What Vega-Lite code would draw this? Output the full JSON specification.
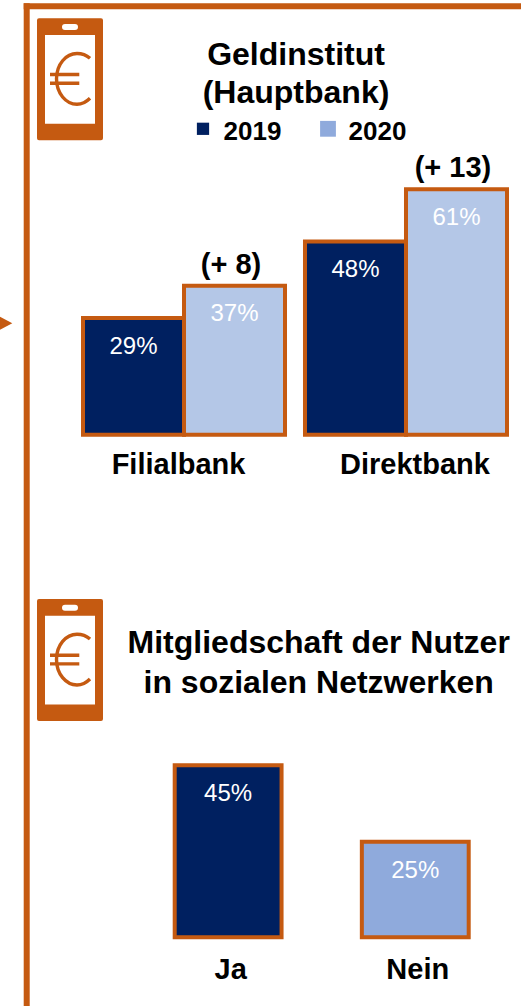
{
  "$schema": "https://vega.github.io/schema/vega-lite/v6.json",
  "width": 521,
  "height": 1006,
  "padding": 0,
  "autosize": "none",
  "background": "white",
  "config": {"view": {"stroke": null}, "text": {"font": "Liberation Sans"}},
  "datasets": {
    "geld": [
      {"Bank": "Filialbank", "Jahr": "2019", "Anteil": 0.29},
      {"Bank": "Filialbank", "Jahr": "2020", "Anteil": 0.37, "Zuwachs": "(+ 8)"},
      {"Bank": "Direktbank", "Jahr": "2019", "Anteil": 0.48},
      {"Bank": "Direktbank", "Jahr": "2020", "Anteil": 0.61, "Zuwachs": "(+ 13)"}
    ],
    "sozial": [
      {"Antwort": "Ja", "Anteil": 0.45},
      {"Antwort": "Nein", "Anteil": 0.25}
    ],
    "titel1": [
      {"Block": "Geldinstitut", "Zeile": "Geldinstitut"},
      {"Block": "Geldinstitut", "Zeile": "(Hauptbank)"}
    ],
    "titel2": [
      {"Block": "Mitgliedschaft", "Zeile": "Mitgliedschaft der Nutzer"},
      {"Block": "Mitgliedschaft", "Zeile": "in sozialen Netzwerken"}
    ],
    "icons": [
      {"Teil": "Icon", "Block": "Geldinstitut"},
      {"Teil": "Icon", "Block": "Mitgliedschaft"}
    ],
    "jahre": [
      {"Jahr": "2019", "Teil": "Legende"},
      {"Jahr": "2020", "Teil": "Legende"}
    ]
  },
  "resolve": {
    "scale": {"x": "independent", "y": "independent", "fill": "independent", "size": "independent"},
    "axis": {"x": "independent", "y": "independent"}
  },
  "layer": [
    {
      "data": {"values": [{"Kante": "links", "von": "oben", "bis": "unten"}]},
      "mark": {"type": "rule", "color": "#C55A11", "strokeWidth": 6},
      "encoding": {
        "x": {"field": "Kante", "type": "nominal", "axis": null, "scale": {"type": "point", "domain": ["links"], "range": [26.7, 26.7]}},
        "y": {"field": "von", "type": "nominal", "axis": null, "scale": {"type": "point", "domain": ["oben", "unten"], "range": [3.3, 1006], "padding": 0}},
        "y2": {"field": "bis"}
      }
    },
    {
      "data": {"values": [{"Kante": "oben", "von": "links", "bis": "rechts"}]},
      "mark": {"type": "rule", "color": "#C55A11", "strokeWidth": 6},
      "encoding": {
        "y": {"field": "Kante", "type": "nominal", "axis": null, "scale": {"type": "point", "domain": ["oben"], "range": [6.3, 6.3]}},
        "x": {"field": "von", "type": "nominal", "axis": null, "scale": {"type": "point", "domain": ["links", "rechts"], "range": [23.7, 521], "padding": 0}},
        "x2": {"field": "bis"}
      }
    },
    {
      "data": {"values": [{"Teil": "Pfeil"}]},
      "mark": {"type": "point", "filled": true, "opacity": 1, "color": "#C55A11", "size": 4, "shape": "M0,-6.5L12.3,0L0,6.5Z"},
      "encoding": {
        "x": {"field": "Teil", "type": "nominal", "axis": null, "scale": {"domain": ["Pfeil"], "range": [0, 0]}},
        "y": {"field": "Teil", "type": "nominal", "axis": null, "scale": {"domain": ["Pfeil"], "range": [323.3, 323.3]}}
      }
    },
    {
      "data": {"name": "icons"},
      "encoding": {
        "x": {"field": "Teil", "type": "nominal", "axis": null, "scale": {"domain": ["Icon"], "range": [70, 70]}},
        "y": {"field": "Block", "type": "nominal", "axis": null, "scale": {"domain": ["Geldinstitut", "Mitgliedschaft"], "range": [79.3, 660], "padding": 0}}
      },
      "layer": [
        {
          "mark": {"type": "point", "filled": true, "opacity": 1, "color": "#C55A11", "size": 4,
            "shape": "M-31,-61L31,-61Q33,-61 33,-59L33,59Q33,61 31,61L-31,61Q-33,61 -33,59L-33,-59Q-33,-61 -31,-61ZM-25,-44.3L-25,44.4L25,44.4L25,-44.3ZM-5,-55.3Q-8,-55.3 -8,-52.3Q-8,-49.3 -5,-49.3L5,-49.3Q8,-49.3 8,-52.3Q8,-55.3 5,-55.3Z"}
        },
        {
          "mark": {"type": "point", "filled": false, "opacity": 1, "color": "#C55A11", "strokeWidth": 3.4, "size": 4,
            "shape": "M20,-21C16,-24.5 12,-25.8 7,-25.8C-4,-25.8 -13.5,-15 -13.5,-0.5C-13.5,14 -4,25 7,25C12,25 16,23 20,19M-20,-4.8L9.3,-4.8M-20,3.9L9.3,3.9"}
        }
      ]
    },
    {
      "data": {"name": "titel1"},
      "mark": {"type": "text", "font": "Liberation Sans", "fontWeight": "bold", "fontSize": 32, "baseline": "alphabetic", "align": "center", "color": "black"},
      "encoding": {
        "x": {"field": "Block", "type": "nominal", "axis": null, "scale": {"domain": ["Geldinstitut"], "range": [296, 296]}},
        "y": {"field": "Zeile", "type": "nominal", "axis": null, "scale": {"domain": ["Geldinstitut", "(Hauptbank)"], "range": [65, 103], "padding": 0}},
        "text": {"field": "Zeile"}
      }
    },
    {
      "data": {"name": "jahre"},
      "encoding": {
        "x": {"field": "Jahr", "type": "ordinal", "axis": null, "scale": {"domain": ["2019", "2020"], "range": [203, 328], "padding": 0}},
        "y": {"field": "Teil", "type": "nominal", "axis": null, "scale": {"domain": ["Legende"], "range": [128.8, 128.8]}}
      },
      "layer": [
        {
          "mark": {"type": "point", "shape": "square", "filled": true, "opacity": 1},
          "encoding": {
            "fill": {"field": "Jahr", "type": "ordinal", "legend": null, "scale": {"domain": ["2019", "2020"], "range": ["#002060", "#8FAADC"]}},
            "size": {"field": "Jahr", "type": "ordinal", "legend": null, "scale": {"domain": ["2019", "2020"], "range": [150, 250]}}
          }
        },
        {
          "mark": {"type": "text", "font": "Liberation Sans", "fontWeight": "bold", "fontSize": 26, "baseline": "alphabetic", "align": "left", "dx": 20.5, "dy": 11, "color": "black"},
          "encoding": {"text": {"field": "Jahr"}}
        }
      ]
    },
    {
      "data": {"name": "geld"},
      "encoding": {
        "x": {
          "field": "Bank", "type": "nominal", "sort": null, "title": null,
          "scale": {"domain": ["Filialbank", "Direktbank"], "range": [83, 507], "paddingInner": 0.09, "paddingOuter": 0},
          "axis": {"orient": "bottom", "offset": -533, "domain": false, "ticks": false, "grid": false, "labelAngle": 0, "labelFont": "Liberation Sans", "labelFontWeight": "bold", "labelFontSize": 29, "labelColor": "black", "labelBaseline": "alphabetic", "labelPadding": 0, "labelLimit": 400, "labelOverlap": false, "labelOffset": {"expr": "datum.value === 'Filialbank' ? -5.5 : 9"}}
        },
        "xOffset": {"field": "Jahr", "type": "ordinal", "scale": {"domain": ["2019", "2020"], "paddingInner": 0, "paddingOuter": 0}},
        "y": {"field": "Anteil", "type": "quantitative", "stack": null, "axis": null, "scale": {"domain": [0, 0.61], "range": [434.7, 189.3], "nice": false}}
      },
      "layer": [
        {
          "mark": {"type": "bar", "stroke": "#C55A11", "strokeWidth": 4},
          "encoding": {
            "fill": {"field": "Jahr", "type": "ordinal", "legend": null, "scale": {"domain": ["2019", "2020"], "range": ["#002060", "#B4C7E7"]}}
          }
        },
        {
          "mark": {"type": "text", "font": "Liberation Sans", "fontSize": 24, "baseline": "alphabetic", "align": "center", "dy": 35.5, "color": "white"},
          "encoding": {"text": {"field": "Anteil", "type": "quantitative", "format": ".0%"}}
        },
        {
          "transform": [{"filter": "datum.Jahr === '2020'"}],
          "mark": {"type": "text", "font": "Liberation Sans", "fontWeight": "bold", "fontSize": 29, "baseline": "alphabetic", "align": "center", "dx": -3.5, "dy": -12, "color": "black"},
          "encoding": {"text": {"field": "Zuwachs"}}
        }
      ]
    },
    {
      "data": {"name": "titel2"},
      "mark": {"type": "text", "font": "Liberation Sans", "fontWeight": "bold", "fontSize": 32, "baseline": "alphabetic", "align": "center", "color": "black"},
      "encoding": {
        "x": {"field": "Block", "type": "nominal", "axis": null, "scale": {"domain": ["Mitgliedschaft"], "range": [318.7, 318.7]}},
        "y": {"field": "Zeile", "type": "nominal", "axis": null, "scale": {"domain": ["Mitgliedschaft der Nutzer", "in sozialen Netzwerken"], "range": [653, 693], "padding": 0}},
        "text": {"field": "Zeile"}
      }
    },
    {
      "data": {"name": "sozial"},
      "encoding": {
        "x": {
          "field": "Antwort", "type": "nominal", "sort": null, "title": null,
          "scale": {"domain": ["Ja", "Nein"], "range": [174.7, 468.7], "paddingInner": 0.429, "paddingOuter": 0},
          "axis": {"orient": "bottom", "offset": -28, "domain": false, "ticks": false, "grid": false, "labelAngle": 0, "labelFont": "Liberation Sans", "labelFontWeight": "bold", "labelFontSize": 29, "labelColor": "black", "labelBaseline": "alphabetic", "labelPadding": 0, "labelLimit": 400, "labelOverlap": false, "labelOffset": 2.5}
        },
        "y": {"field": "Anteil", "type": "quantitative", "stack": null, "axis": null, "scale": {"domain": [0, 0.45], "range": [937.3, 765.3], "nice": false}}
      },
      "layer": [
        {
          "mark": {"type": "bar", "stroke": "#C55A11", "strokeWidth": 4},
          "encoding": {
            "fill": {"field": "Antwort", "type": "nominal", "legend": null, "scale": {"domain": ["Ja", "Nein"], "range": ["#002060", "#8FAADC"]}}
          }
        },
        {
          "mark": {"type": "text", "font": "Liberation Sans", "fontSize": 24, "baseline": "alphabetic", "align": "center", "dy": 36, "color": "white"},
          "encoding": {"text": {"field": "Anteil", "type": "quantitative", "format": ".0%"}}
        }
      ]
    }
  ]
}
